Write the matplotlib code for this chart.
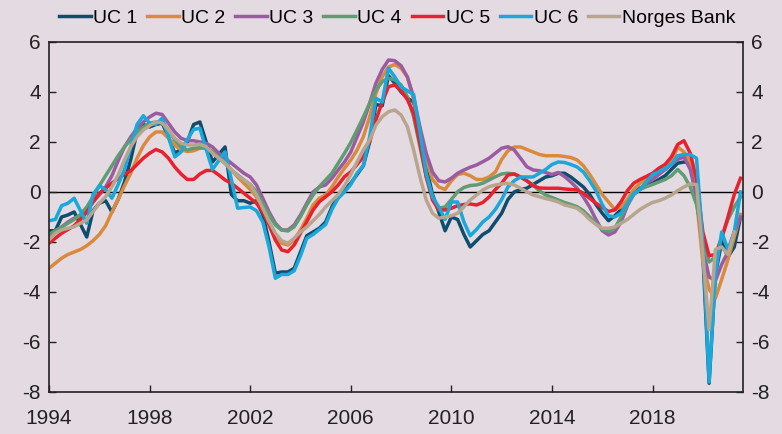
import numpy as np
import matplotlib.pyplot as plt

plt.rcParams['font.family'] = ['Liberation Sans', 'DejaVu Sans']
plt.rcParams['axes.unicode_minus'] = False

# quarterly, 1994Q1 onwards
uc1 = [-1.55, -1.55, -1.0, -0.92, -0.8, -1.3, -1.8, -0.75, -0.45, -0.35, -0.8, -0.3, 0.4, 1.3, 2.4, 2.7,
       2.6, 2.7, 2.75, 2.2, 1.55, 1.7, 2.0, 2.7, 2.8, 2.0, 1.2, 1.5, 1.8, -0.1, -0.35, -0.35,
       -0.45, -0.35, -0.9, -2.0, -3.25, -3.2, -3.2, -3.05, -2.4, -1.75, -1.6, -1.45, -1.2, -0.6, -0.15, 0.1,
       0.35, 0.7, 1.05, 2.0, 3.5, 3.45, 4.65, 4.35, 4.0, 3.75, 3.6, 2.5, 1.0, -0.1, -0.8, -1.55,
       -1.0, -1.1, -1.7, -2.2, -1.95, -1.7, -1.55, -1.2, -0.85, -0.3, 0.0, 0.1, 0.15, 0.3, 0.45, 0.6,
       0.65, 0.75, 0.75, 0.6, 0.4, 0.2, -0.1, -0.5, -0.85, -1.15, -0.95, -0.7, -0.35, -0.05, 0.15, 0.3,
       0.35, 0.5, 0.65, 0.9, 1.15, 1.2, 1.15, 0.6, -2.5, -7.65, -3.3, -2.0, -2.6, -2.2, -1.0]
uc2 = [-3.05, -2.85, -2.65, -2.5, -2.4, -2.3, -2.15, -1.95, -1.7, -1.35, -0.8, -0.3, 0.25, 0.75, 1.35, 1.85,
       2.2, 2.4, 2.4, 2.15, 1.88, 1.68, 1.62, 1.65, 1.75, 1.77, 1.62, 1.42, 1.15, 0.88, 0.6, 0.35,
       0.1, -0.2, -0.65, -1.2, -1.72, -2.05, -2.12, -1.92, -1.52, -1.05, -0.52, -0.25, -0.12, 0.2, 0.6, 0.95,
       1.28, 1.68, 2.21, 3.0, 3.95, 4.6, 5.0, 5.1, 4.95, 4.6, 3.7, 2.35, 1.3, 0.5, 0.2, 0.1,
       0.45, 0.7, 0.75, 0.65, 0.5, 0.5, 0.6, 0.8, 1.3, 1.65, 1.8, 1.8, 1.7, 1.6, 1.5, 1.45,
       1.45, 1.45, 1.42, 1.38, 1.28, 1.05, 0.7, 0.3, -0.1, -0.4, -0.7, -0.6, -0.3, 0.1, 0.35, 0.5,
       0.65, 0.8, 0.9, 1.2, 1.8, 1.6, 1.2, -0.3, -2.8, -3.9, -4.25, -3.5, -2.7, -1.8, -0.9]
uc3 = [-1.75, -1.6, -1.4, -1.2, -1.05, -0.95, -0.72, -0.4, -0.12, 0.2, 0.65, 1.25, 1.8, 2.2, 2.55, 2.8,
       3.0, 3.15, 3.1, 2.75, 2.4, 2.15, 2.05, 2.05, 2.0, 1.95, 1.8, 1.55, 1.35, 1.15, 0.95, 0.75,
       0.6, 0.28, -0.25, -0.8, -1.25, -1.52, -1.52, -1.32, -0.92, -0.45, 0.0, 0.2, 0.28, 0.55, 0.88, 1.2,
       1.6, 2.2, 2.8, 3.55, 4.35, 4.9, 5.28, 5.25, 5.05, 4.6, 3.8, 2.6, 1.55, 0.8, 0.45, 0.4,
       0.55, 0.75, 0.88, 0.99, 1.08, 1.21, 1.35, 1.55, 1.75, 1.81, 1.68, 1.35, 1.01, 0.88, 0.85, 0.78,
       0.7, 0.78, 0.62, 0.4, 0.15, -0.2, -0.6, -1.1, -1.55, -1.72, -1.6, -1.2, -0.55, -0.1, 0.1, 0.35,
       0.5, 0.7, 0.9, 1.1, 1.3, 1.4, 0.9, -0.2, -2.3, -3.4, -3.55, -2.9, -2.4, -1.6, -1.0]
uc4 = [-1.7, -1.55, -1.4, -1.25, -1.1, -0.9, -0.6, -0.2, 0.25, 0.65, 1.05, 1.45, 1.8, 2.1, 2.4, 2.6,
       2.75, 2.8, 2.8, 2.48, 2.08, 1.81, 1.68, 1.75, 1.77, 1.75, 1.61, 1.35, 1.15, 0.88, 0.68, 0.48,
       0.3, 0.01, -0.45, -0.92, -1.32, -1.52, -1.56, -1.39, -0.99, -0.52, -0.12, 0.21, 0.48, 0.75, 1.15, 1.55,
       1.98, 2.48, 3.0, 3.55, 4.08, 4.41, 4.55, 4.48, 4.28, 3.81, 3.0, 1.81, 0.61, -0.19, -0.65, -0.6,
       -0.3, 0.01, 0.18, 0.26, 0.28, 0.35, 0.48, 0.61, 0.72, 0.75, 0.72, 0.6, 0.45, 0.28, 0.05, -0.12,
       -0.22, -0.32, -0.42, -0.5, -0.59, -0.75, -1.0, -1.25, -1.5, -1.58, -1.45, -1.0, -0.5, -0.1, 0.1, 0.21,
       0.3, 0.4, 0.5, 0.65, 0.9, 0.65, 0.2, -0.5, -1.8, -2.8, -2.6, -1.8, -1.1, -0.6, -0.2]
uc5 = [-2.05, -1.85, -1.65, -1.5, -1.35, -1.1, -0.8, -0.4, -0.05, 0.15, 0.35, 0.55, 0.7, 0.85, 1.1, 1.35,
       1.55, 1.7, 1.6, 1.35, 1.0, 0.72, 0.5, 0.5, 0.72, 0.86, 0.86, 0.68, 0.48, 0.35, 0.15, -0.05,
       -0.25, -0.45, -0.79, -1.32, -1.92, -2.32, -2.39, -2.12, -1.65, -1.19, -0.72, -0.39, -0.19, 0.01, 0.28, 0.61,
       0.8, 1.1, 1.41, 2.0, 2.88, 3.6, 4.21, 4.28, 4.05, 3.7, 3.15, 1.95, 0.61, -0.32, -0.72, -0.72,
       -0.65, -0.55, -0.5, -0.48, -0.52, -0.42, -0.2, 0.1, 0.35, 0.68, 0.72, 0.6, 0.45, 0.25, 0.16, 0.15,
       0.15, 0.15, 0.12, 0.1, 0.08, -0.05, -0.25, -0.45, -0.62, -0.78, -0.72, -0.39, 0.05, 0.35, 0.5, 0.62,
       0.75, 0.95, 1.1, 1.4, 1.9, 2.05, 1.55, 0.5, -1.6, -2.55, -2.5, -1.85, -1.0, -0.1, 0.55]
uc6 = [-1.15, -1.1, -0.55, -0.45, -0.25, -0.75, -1.25, -0.1, 0.25, 0.1, -0.25, 0.3, 0.9, 1.8, 2.7, 3.05,
       2.75, 2.7, 2.95, 2.2, 1.4, 1.6, 2.1, 2.5, 2.55, 1.7, 0.9, 1.25, 1.6, 0.5, -0.65, -0.62,
       -0.6, -0.75, -1.2, -2.2, -3.45, -3.3, -3.3, -3.15, -2.55, -1.85, -1.7, -1.5, -1.3, -0.7, -0.25, 0.0,
       0.3, 0.75, 1.05, 2.2, 3.75, 3.6, 4.95, 4.6, 4.2, 4.05, 3.9, 2.4, 0.75, -0.2, -0.6, -1.1,
       -0.4, -0.4, -1.2, -1.75, -1.5, -1.2, -1.0, -0.7, -0.3, 0.2, 0.45, 0.6, 0.6, 0.6, 0.75, 0.9,
       1.1, 1.2, 1.18, 1.1, 1.0, 0.8, 0.45, 0.05, -0.5, -0.95, -1.0, -0.85, -0.45, -0.05, 0.1, 0.4,
       0.7, 0.8, 0.95, 1.1, 1.45, 1.5, 1.5, 1.35, -2.0, -7.6, -3.3, -1.6, -2.3, -1.6, 0.0]
norges_bank = [-1.92, -1.65, -1.52, -1.45, -1.39, -1.25, -1.12, -0.79, -0.45, -0.19, 0.21, 0.68, 1.28, 1.81, 2.21, 2.48,
               2.65, 2.81, 2.75, 2.48, 2.15, 1.95, 1.88, 1.88, 1.91, 1.81, 1.55, 1.35, 1.15, 0.88, 0.65, 0.48,
               0.3, -0.12, -0.65, -1.19, -1.65, -1.95, -2.05, -1.85, -1.6, -1.4, -1.15, -0.9, -0.6, -0.35, -0.1, 0.25,
               0.7, 1.2, 1.68, 2.08, 2.68, 3.01, 3.21, 3.28, 3.08, 2.61, 1.68, 0.61, -0.32, -0.85, -1.05, -1.0,
               -0.95, -0.85, -0.59, -0.32, -0.12, 0.08, 0.21, 0.28, 0.32, 0.35, 0.28, 0.15, 0.01, -0.12, -0.19, -0.26,
               -0.32, -0.4, -0.52, -0.58, -0.65, -0.85, -1.1, -1.3, -1.45, -1.45, -1.4, -1.25, -1.1, -0.9, -0.7, -0.55,
               -0.42, -0.35, -0.25, -0.12, 0.05, 0.2, 0.32, 0.3, -2.5, -5.5, -2.3, -2.2, -2.5, -1.6]

labels = ['UC 1', 'UC 2', 'UC 3', 'UC 4', 'UC 5', 'UC 6', 'Norges Bank']
colors = ['#0e4d6e', '#d98a3d', '#9b5ba1', '#5f9c73', '#e8212e', '#1aa7d9', '#b7a58e']
series = [uc1, uc2, uc3, uc4, uc5, uc6, norges_bank]
xticks = [1994, 1998, 2002, 2006, 2010, 2014, 2018]
yticks = [6, 4, 2, 0, -2, -4, -6, -8]

bg = '#e4dbe2'
fig = plt.figure(figsize=(7.82, 4.34), dpi=100, facecolor=bg)
ax = fig.add_axes([0.0627, 0.0968, 0.8875, 0.8065], facecolor=bg)

ax.axhline(0, color='black', lw=1.0, zorder=1)
for vals, lab, c in zip(series, labels, colors):
    t = 1994 + np.arange(len(vals)) / 4
    ax.plot(t, vals, color=c, lw=2.5, label=lab, zorder=2)

ax.set_xlim(1994, 2021.6)
ax.set_ylim(-8, 6)
ax.set_xticks(xticks)
ax.set_yticks(yticks)
ax.tick_params(axis='both', direction='in', length=5, width=1, labelsize=15, colors='#222222')
ax.tick_params(axis='y', right=True, labelright=True, pad=6)
ax.tick_params(axis='x', pad=12)
for s in ax.spines.values():
    s.set_color('#222222')
    s.set_linewidth(1.2)

fig.legend(loc='center', bbox_to_anchor=(0.508, 0.958), ncol=7, frameon=False,
           fontsize=14, handlelength=1.6, handletextpad=0.15, columnspacing=0.5)

fig.savefig('out.png', dpi=100, facecolor=bg)
